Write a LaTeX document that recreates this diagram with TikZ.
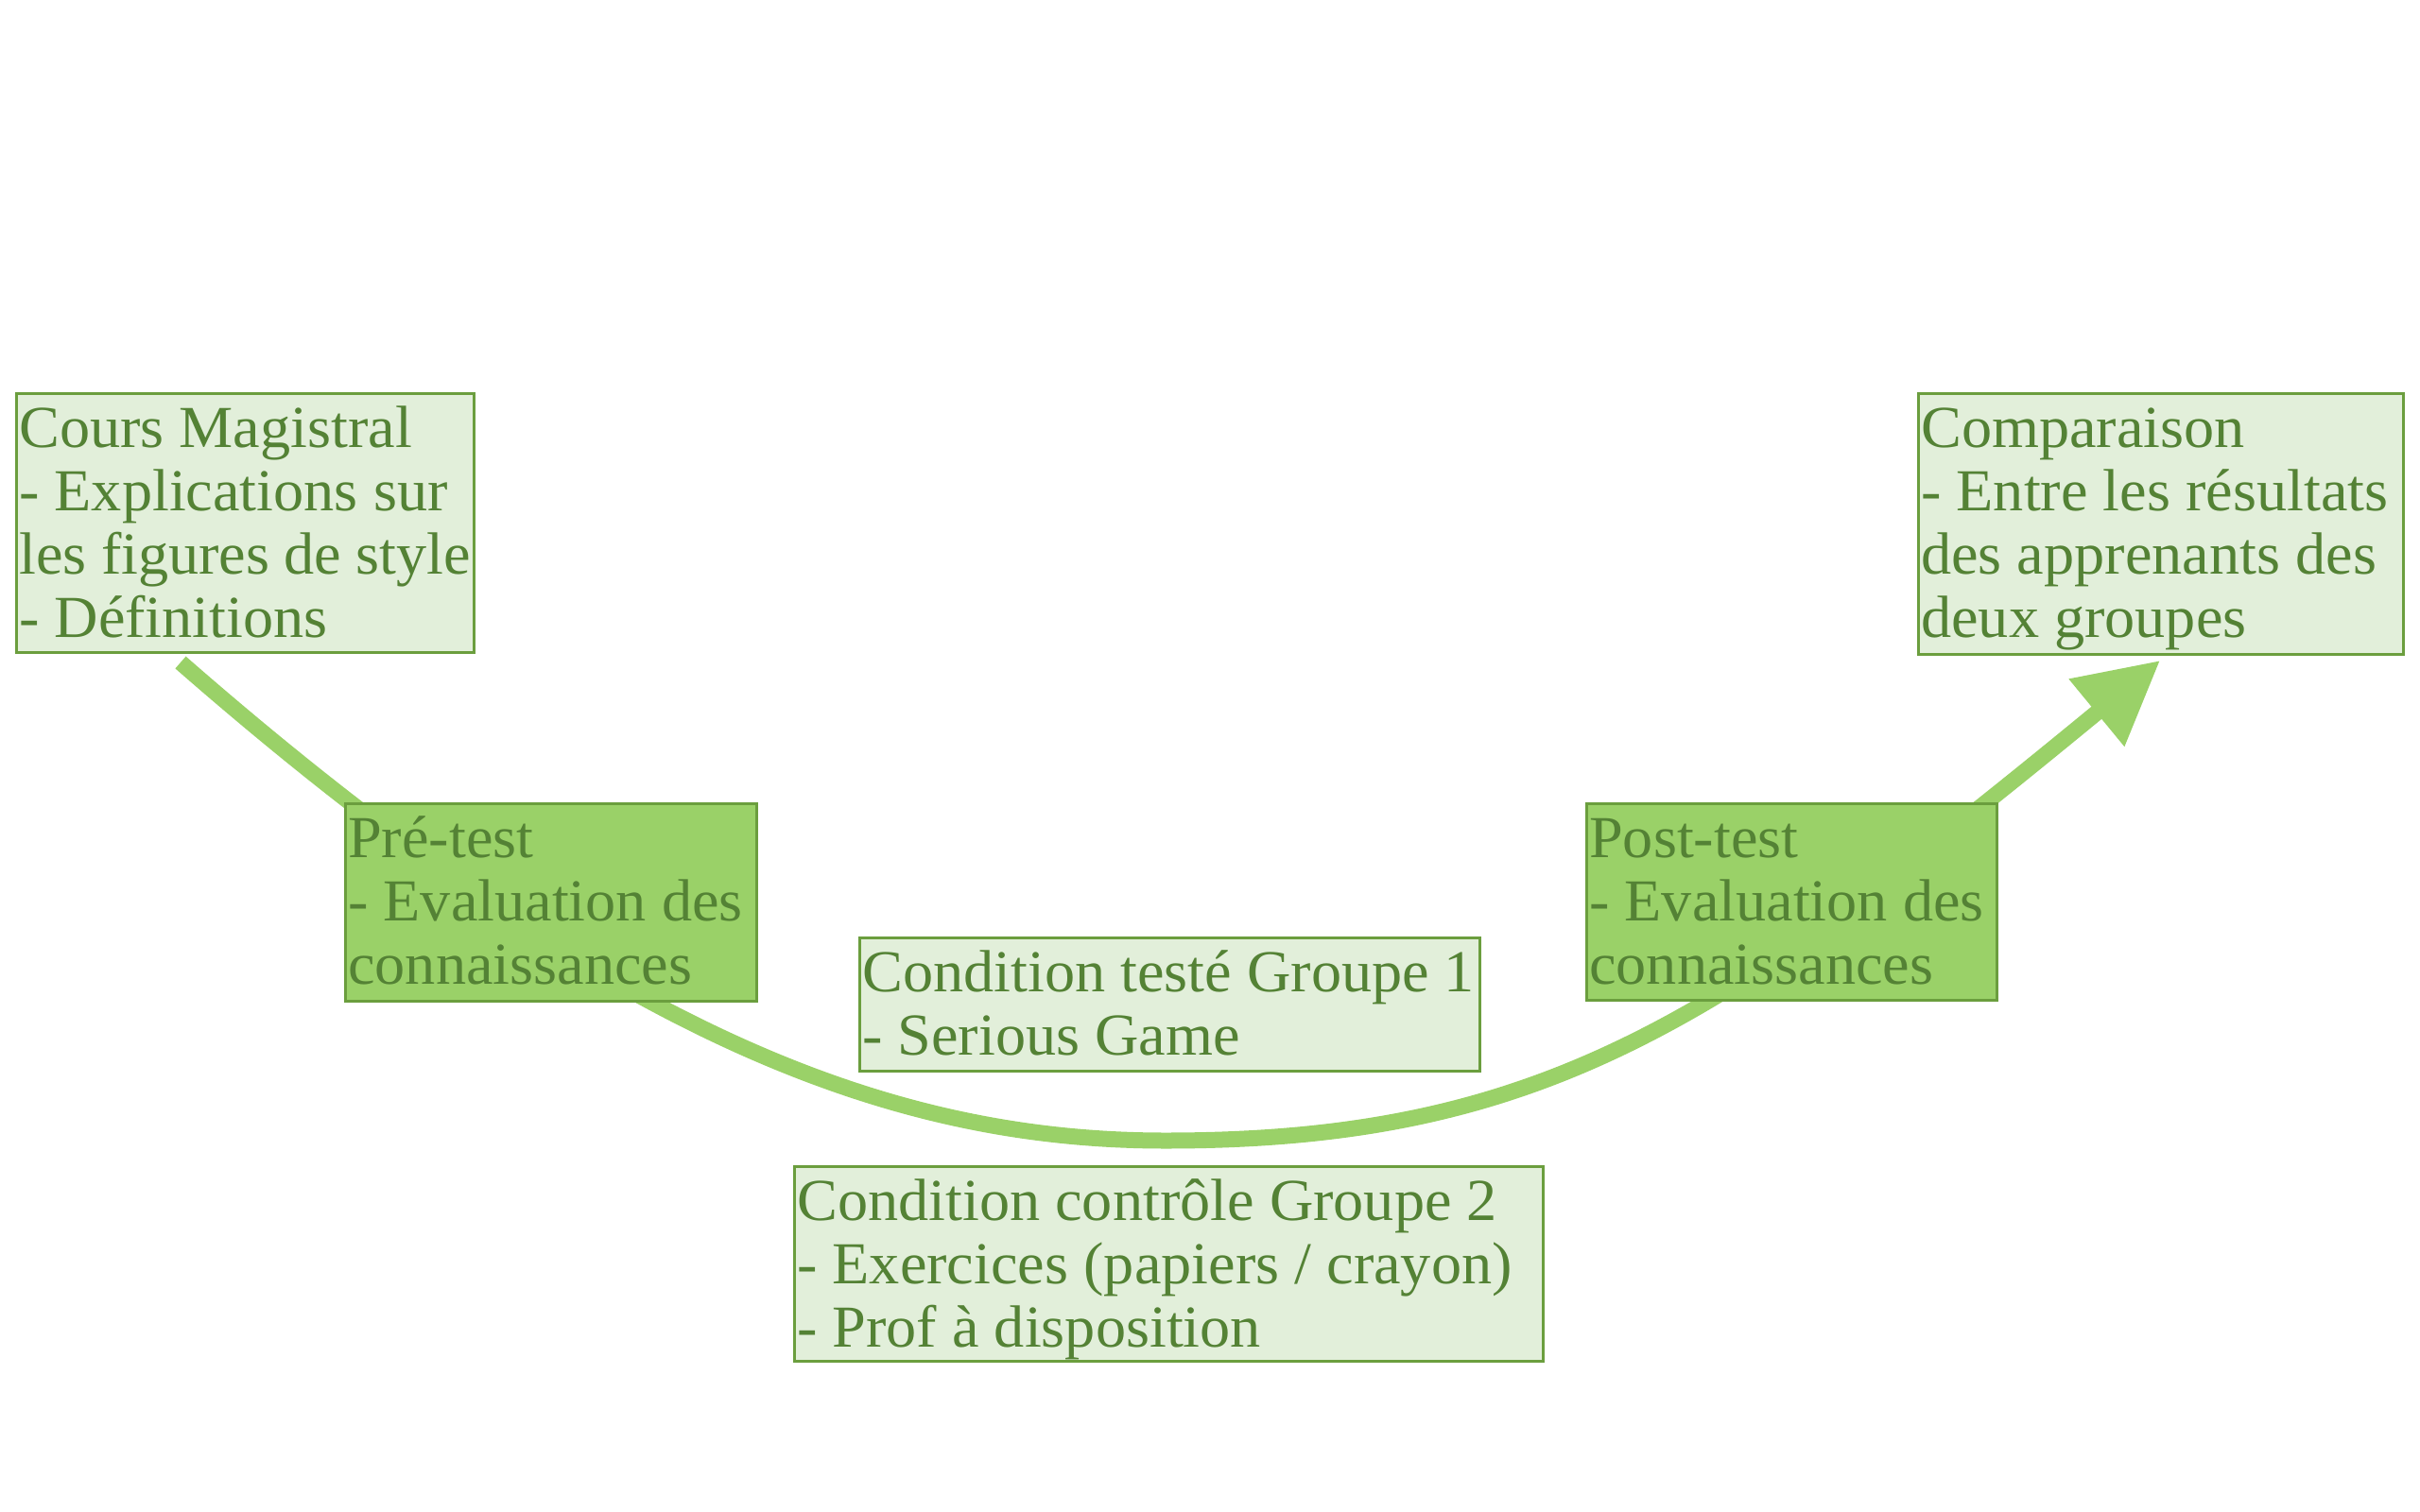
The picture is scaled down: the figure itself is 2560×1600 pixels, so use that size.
\documentclass[tikz,border=0pt]{standalone}
\usepackage{fontspec}
\setmainfont{Liberation Serif}[FakeStretch=1.02]
\usetikzlibrary{arrows.meta}
\definecolor{lightbox}{HTML}{E2EFDA}
\definecolor{darkbox}{HTML}{9AD168}
\definecolor{boxline}{HTML}{6B9E3E}
\definecolor{txtgreen}{HTML}{548235}
\definecolor{flowgreen}{HTML}{9AD168}
\newcommand{\boxtext}[3]{\parbox[c][#2][t]{#1}{\raggedright\rule{0pt}{57pt}#3}}
\tikzset{
  stagebox/.style={draw=boxline, line width=2.5pt, fill=lightbox, text=txtgreen,
    inner xsep=3pt, inner ysep=0pt, anchor=north west,
    font=\fontsize{63pt}{67pt}\selectfont},
  testbox/.style={stagebox, fill=darkbox},
  flow/.style={draw=flowgreen, line width=17pt, line cap=butt,
    -{Triangle[length=87pt,width=88pt]}}
}
\begin{document}
\begin{tikzpicture}[x=1pt,y=-1pt]
\useasboundingbox (0,0) rectangle (2560,1600);
\coordinate (s) at (191,701);
\coordinate (b) at (1233,1207);
\coordinate (t) at (2285,699);
\draw[flow] (s) .. controls (643,1096) and (943,1207) .. (b)
  .. controls (1633,1207) and (1822,1080) .. (t);
\node[stagebox] (cours) at (16,415) {\boxtext{478pt}{274pt}{Cours Magistral\\- Explications sur\\les figures de style\\- Définitions}};
\node[stagebox] (comp) at (2028,415) {\boxtext{507pt}{276pt}{Comparaison\\- Entre les résultats\\des apprenants des\\deux groupes}};
\node[testbox] (pre) at (364,849) {\boxtext{429pt}{209pt}{Pré-test\\- Evaluation des\\connaissances}};
\node[testbox] (post) at (1677,849) {\boxtext{428pt}{208pt}{Post-test\\- Evaluation des\\connaissances}};
\node[stagebox] (cond1) at (908,991) {\boxtext{650pt}{141pt}{Condition testé Groupe 1\\- Serious Game}};
\node[stagebox] (cond2) at (839,1233) {\boxtext{786pt}{206pt}{Condition contrôle Groupe 2\\- Exercices (papiers / crayon)\\- Prof à disposition}};
\end{tikzpicture}
\end{document}
